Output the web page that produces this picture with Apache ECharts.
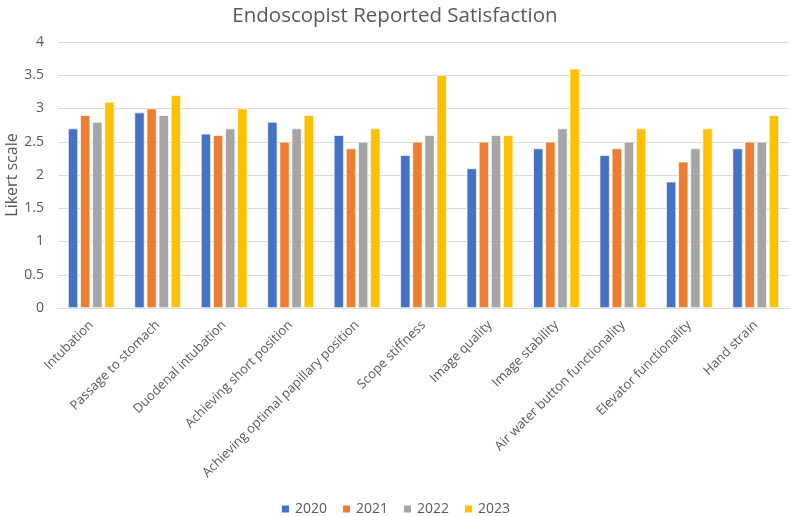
<!DOCTYPE html>
<html>
<head>
<meta charset="utf-8">
<script src="https://cdn.jsdelivr.net/npm/echarts@6/dist/echarts.min.js"></script>
<style>
  html, body { margin: 0; padding: 0; background: #fff; }
  #chart { width: 790px; height: 516px; }
</style>
</head>
<body>
<div id="chart"></div>
<script>
const categories = ['Intubation', 'Passage to stomach', 'Duodenal intubation', 'Achieving short position',
  'Achieving optimal papillary position', 'Scope stiffness', 'Image quality', 'Image stability',
  'Air water button functionality', 'Elevator functionality', 'Hand strain'];
const years = ['2020', '2021', '2022', '2023'];
const values2020 = [2.7, 2.94, 2.62, 2.8, 2.6, 2.3, 2.1, 2.4, 2.3, 1.9, 2.4];
const values2021 = [2.9, 3.0, 2.6, 2.5, 2.4, 2.5, 2.5, 2.5, 2.4, 2.2, 2.5];
const values2022 = [2.8, 2.9, 2.7, 2.7, 2.5, 2.6, 2.6, 2.7, 2.5, 2.4, 2.5];
const values2023 = [3.1, 3.2, 3.0, 2.9, 2.7, 3.5, 2.6, 3.6, 2.7, 2.7, 2.9];
const colors = ['#4472c4', '#ed7d31', '#a5a5a5', '#ffc000'];

const seriesData = [values2020, values2021, values2022, values2023];
const font = 'Open Sans';

const chart = echarts.init(document.getElementById('chart'));
chart.setOption({
  animation: false,
  title: {
    text: 'Endoscopist Reported Satisfaction',
    left: 'center',
    top: 1,
    textStyle: { color: '#595959', fontSize: 20.5, fontWeight: 'normal', fontFamily: font }
  },
  legend: {
    top: 497,
    left: 'center',
    itemWidth: 9,
    itemHeight: 9,
    itemGap: 14,
    icon: 'rect',
    textStyle: { color: '#595959', fontSize: 14, fontFamily: font },
    data: years
  },
  grid: { left: 58, right: 1, top: 42, bottom: 208, containLabel: false, outerBoundsMode: 'none' },
  xAxis: {
    type: 'category',
    data: categories,
    axisTick: { show: false },
    axisLine: { lineStyle: { color: '#d9d9d9' } },
    axisLabel: {
      rotate: 45, interval: 0, color: '#595959', fontSize: 13, fontFamily: font, margin: 15
    }
  },
  yAxis: {
    type: 'value',
    min: 0, max: 4, interval: 0.5,
    name: 'Likert scale',
    nameLocation: 'middle',
    nameGap: 38,
    nameMoveOverlap: false,
    nameTextStyle: { color: '#595959', fontSize: 16, fontFamily: font },
    axisLine: { show: false },
    axisTick: { show: false },
    axisLabel: { color: '#595959', fontSize: 14, fontFamily: font, margin: 14 },
    splitLine: { lineStyle: { color: '#d9d9d9' } }
  },
  series: years.map((y, i) => ({
    name: y,
    type: 'bar',
    data: seriesData[i],
    barGap: '20%',
    barCategoryGap: '30%',
    itemStyle: { color: colors[i], borderColor: '#fff', borderWidth: 0.7 }
  }))
});
</script>
</body>
</html>
